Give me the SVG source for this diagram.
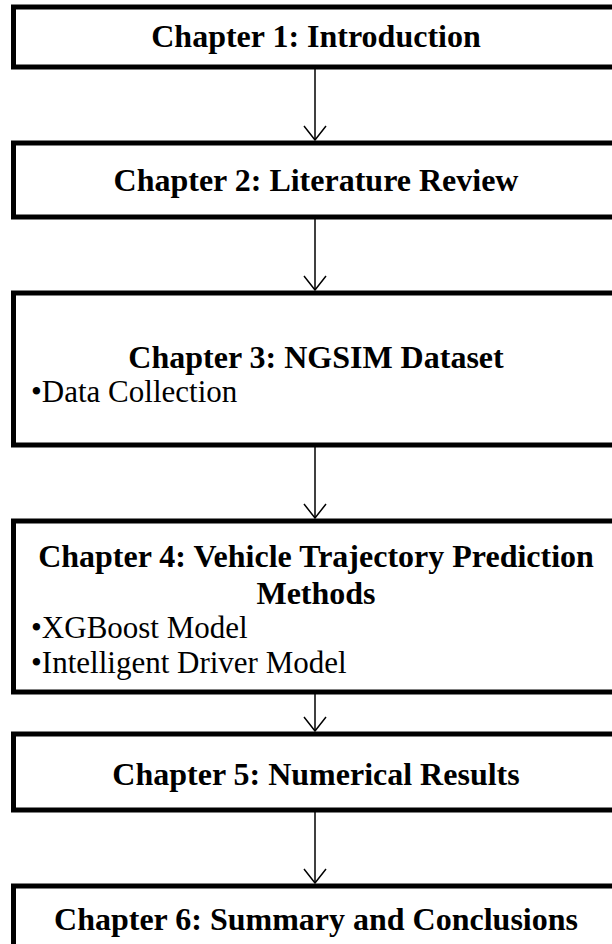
<svg xmlns="http://www.w3.org/2000/svg" width="612" height="944" viewBox="0 0 612 944">
  <defs>
    <style>
      .box { fill: #ffffff; stroke: #000000; stroke-width: 5; }
      .title { font-family: "Liberation Serif", "Times New Roman", serif; font-weight: bold; font-size: 32px; fill: #000000; text-anchor: middle; }
      .item { font-family: "Liberation Serif", "Times New Roman", serif; font-size: 31px; fill: #000000; }
      .link { fill: none; stroke: #000000; stroke-width: 1.5; }
    </style>
    <marker id="vhead" viewBox="0 0 24 16" refX="12" refY="15" markerWidth="24" markerHeight="16" markerUnits="userSpaceOnUse" orient="0">
      <path d="M1 1 L12 15 L23 1" fill="none" stroke="#000" stroke-width="1.5"/>
    </marker>
  </defs>

  <g id="connectors">
    <line class="link" x1="315" y1="69" x2="315" y2="140" marker-end="url(#vhead)"/>
    <line class="link" x1="315" y1="219" x2="315" y2="290" marker-end="url(#vhead)"/>
    <line class="link" x1="315" y1="447" x2="315" y2="518" marker-end="url(#vhead)"/>
    <line class="link" x1="315" y1="694" x2="315" y2="731" marker-end="url(#vhead)"/>
    <line class="link" x1="315" y1="812" x2="315" y2="883" marker-end="url(#vhead)"/>
  </g>

  <g id="ch1">
    <rect class="box" x="13.5" y="7" width="620" height="60"/>
    <text class="title" x="316" y="47">Chapter 1: Introduction</text>
  </g>

  <g id="ch2">
    <rect class="box" x="13.5" y="143" width="620" height="74"/>
    <text class="title" x="316" y="191">Chapter 2: Literature Review</text>
  </g>

  <g id="ch3">
    <rect class="box" x="13.5" y="293" width="620" height="152"/>
    <text class="title" x="316" y="368">Chapter 3: NGSIM Dataset</text>
    <text class="item" x="31" y="402">•Data Collection</text>
  </g>

  <g id="ch4">
    <rect class="box" x="13.5" y="521" width="620" height="171"/>
    <text class="title" x="316" y="567">Chapter 4:  Vehicle Trajectory Prediction</text>
    <text class="title" x="316" y="604">Methods</text>
    <text class="item" x="31" y="638">•XGBoost Model</text>
    <text class="item" x="31" y="673">•Intelligent Driver Model</text>
  </g>

  <g id="ch5">
    <rect class="box" x="13.5" y="734" width="620" height="76"/>
    <text class="title" x="316" y="785">Chapter 5: Numerical Results</text>
  </g>

  <g id="ch6">
    <rect class="box" x="13.5" y="886" width="620" height="80"/>
    <text class="title" x="316" y="930">Chapter 6: Summary and Conclusions</text>
  </g>
</svg>
